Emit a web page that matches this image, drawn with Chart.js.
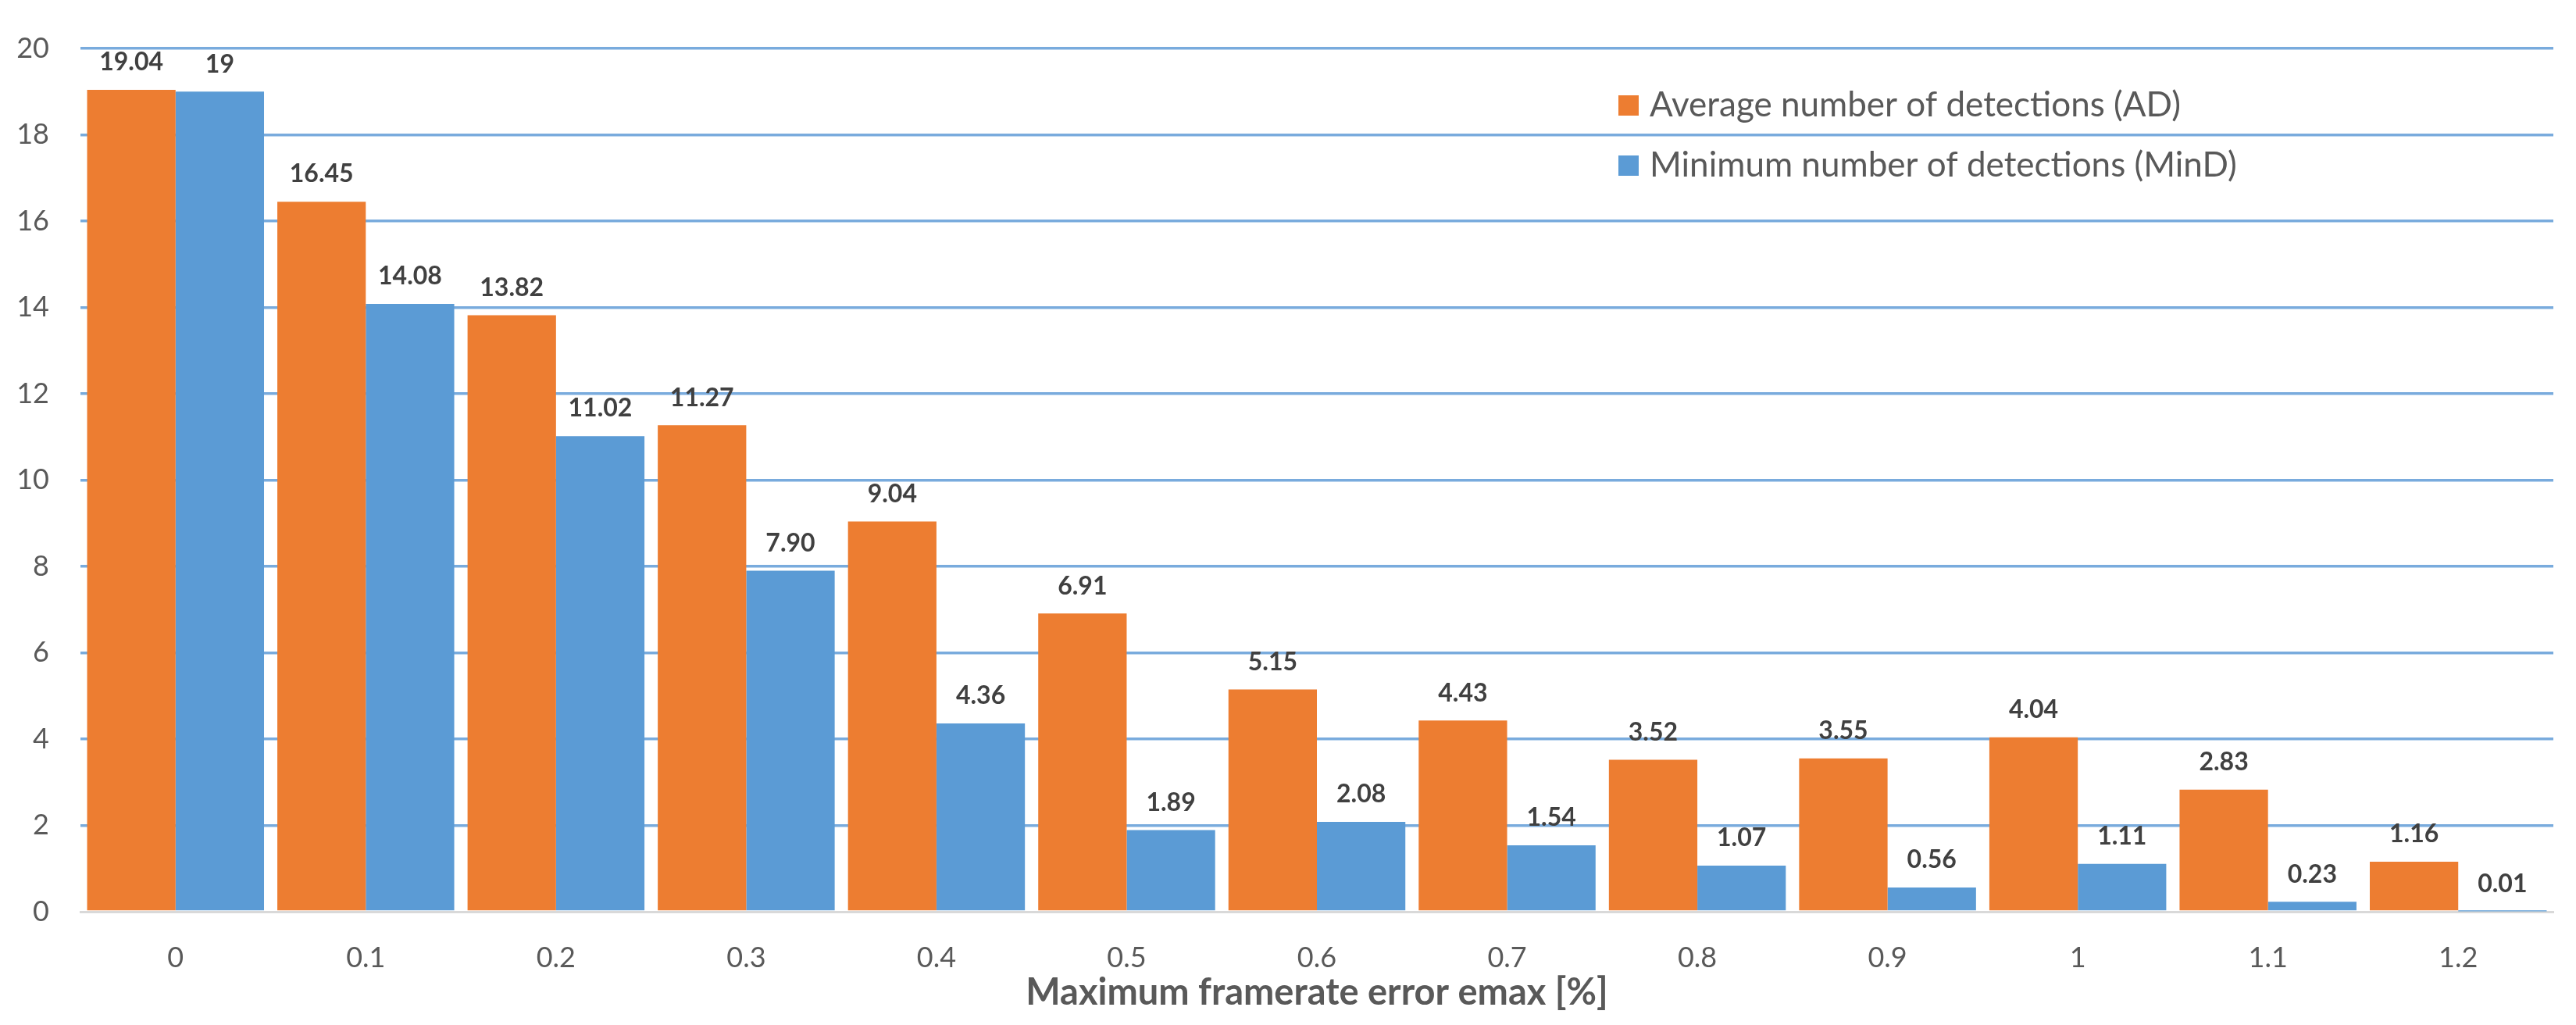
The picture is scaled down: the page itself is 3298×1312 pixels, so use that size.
<!DOCTYPE html>
<html>
<head>
<meta charset="utf-8">
<script src="https://cdn.jsdelivr.net/npm/chart.js@4.4.1/dist/chart.umd.min.js"></script>
<style>
  html, body { margin: 0; padding: 0; background: #ffffff; }
  #wrap { width: 3298px; height: 1312px; position: relative; }
</style>
</head>
<body>
<div id="wrap"><canvas id="c"></canvas></div>
<script>
// ---- data ----
const categories = ['0', '0.1', '0.2', '0.3', '0.4', '0.5', '0.6', '0.7', '0.8', '0.9', '1', '1.1', '1.2'];
const avgDetections = [19.04, 16.45, 13.82, 11.27, 9.04, 6.91, 5.15, 4.43, 3.52, 3.55, 4.04, 2.83, 1.16];
const minDetections = [19, 14.08, 11.02, 7.90, 4.36, 1.89, 2.08, 1.54, 1.07, 0.56, 1.11, 0.23, 0.01];
const seriesNames = ['Average number of detections (AD)', 'Minimum number of detections (MinD)'];
const yTicks = [0, 2, 4, 6, 8, 10, 12, 14, 16, 18, 20];
const xTitle = 'Maximum framerate error emax [%]';

const ORANGE = '#ED7D31';
const BLUE = '#5B9BD5';
const FONT = 'Lato';

function fmt(v) { return Number.isInteger(v) ? String(v) : v.toFixed(2); }

const valueLabels = {
  id: 'valueLabels',
  afterDatasetsDraw(chart) {
    const ctx = chart.ctx;
    ctx.save();
    ctx.font = 'bold 32px ' + FONT;
    ctx.fillStyle = '#404040';
    ctx.textAlign = 'center';
    ctx.textBaseline = 'bottom';
    chart.data.datasets.forEach((ds, di) => {
      const meta = chart.getDatasetMeta(di);
      meta.data.forEach((el, i) => {
        ctx.fillText(fmt(ds.data[i]), el.x, el.y - 19);
      });
    });
    ctx.restore();
  }
};

const customLegend = {
  id: 'customLegend',
  afterDraw(chart) {
    const ctx = chart.ctx;
    ctx.save();
    ctx.font = '44px ' + FONT;
    ctx.textBaseline = 'middle';
    ctx.textAlign = 'left';
    chart.data.datasets.forEach((ds, i) => {
      const cy = 135 + i * 77;
      ctx.fillStyle = ds.backgroundColor;
      ctx.fillRect(2072, cy - 13, 26, 26);
      ctx.fillStyle = '#595959';
      ctx.fillText(ds.label, 2112, cy);
    });
    ctx.restore();
  }
};

new Chart(document.getElementById('c'), {
  type: 'bar',
  data: {
    labels: categories,
    datasets: [
      { label: seriesNames[0], data: avgDetections, backgroundColor: ORANGE, borderWidth: 0 },
      { label: seriesNames[1], data: minDetections, backgroundColor: BLUE, borderWidth: 0 }
    ]
  },
  options: {
    responsive: true,
    maintainAspectRatio: false,
    devicePixelRatio: 1,
    animation: false,
    layout: { padding: { left: 0, right: 29, top: 62, bottom: 0 } },
    datasets: { bar: { categoryPercentage: 0.93, barPercentage: 1.0 } },
    plugins: {
      legend: { display: false },
      tooltip: { enabled: false }
    },
    scales: {
      x: {
        afterFit(axis) { axis.height = 145; },
        grid: { display: false, drawTicks: false },
        border: { display: true, color: '#D9D9D9', width: 3 },
        ticks: { color: '#595959', font: { family: FONT, size: 36 }, padding: 38 },
        title: {
          display: true, text: xTitle, color: '#595959',
          font: { family: FONT, size: 47, weight: 'bold' },
          padding: { top: 0, bottom: 13 }
        }
      },
      y: {
        min: 0, max: 20,
        afterFit(axis) { axis.width = 103; },
        afterBuildTicks(axis) { axis.ticks = yTicks.map(v => ({ value: v })); },
        grid: {
          drawTicks: false,
          color: ctx => (ctx.tick && ctx.tick.value === 0) ? 'rgba(0,0,0,0)' : '#79ABDD',
          lineWidth: 3.5
        },
        border: { display: false },
        ticks: { color: '#595959', font: { family: FONT, size: 36 }, padding: 40 }
      }
    }
  },
  plugins: [valueLabels, customLegend]
});
</script>
</body>
</html>
